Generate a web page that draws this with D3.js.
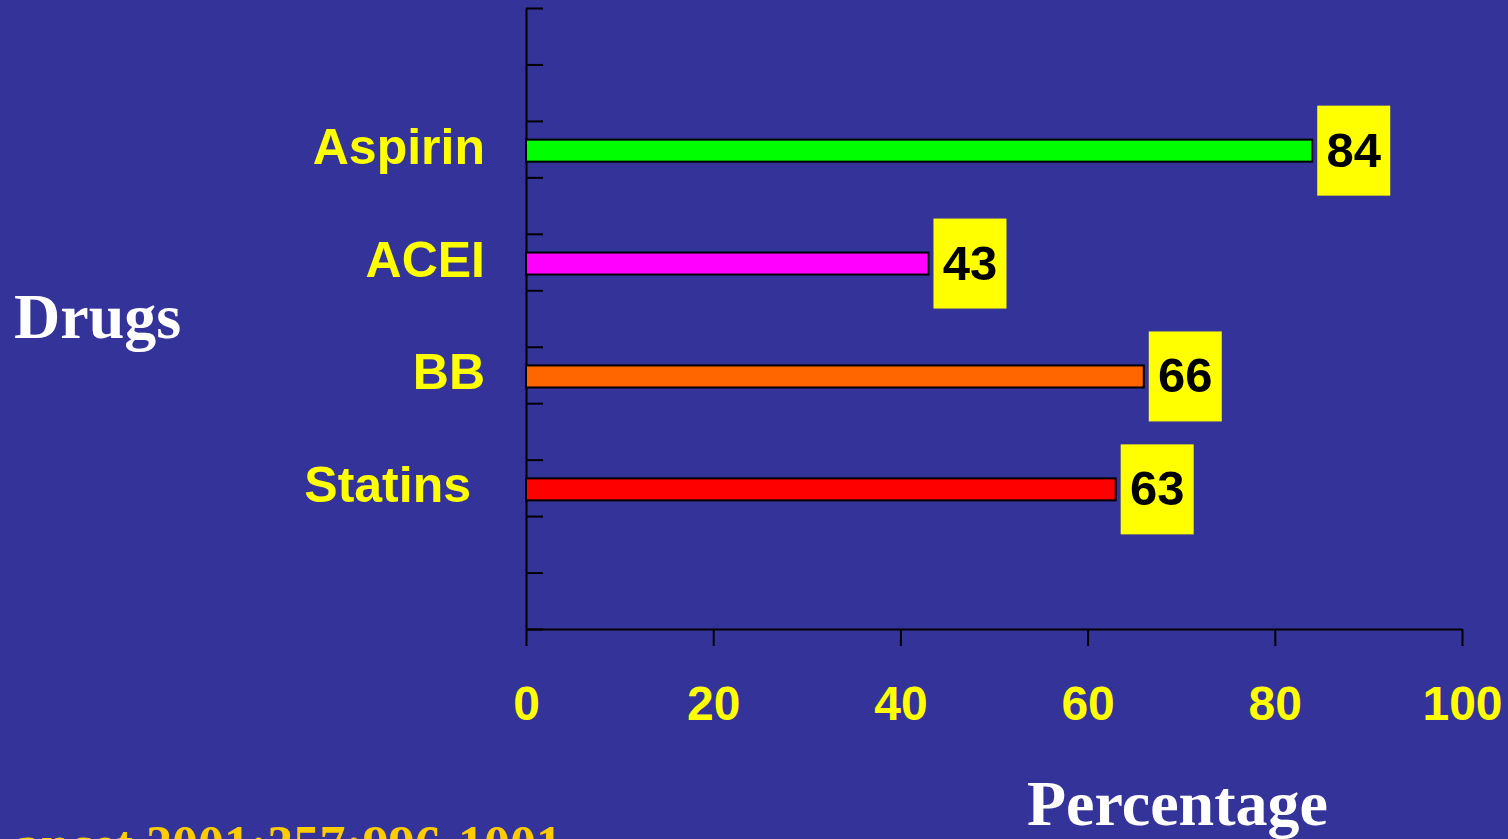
<!DOCTYPE html>
<html>
<head>
<meta charset="utf-8">
<script src="https://cdn.jsdelivr.net/npm/d3@7/dist/d3.min.js"></script>
<style>
  html, body { margin: 0; padding: 0; background: #333399; overflow: hidden; }
  svg { display: block; }
</style>
</head>
<body>
<script>
const categories = ["Aspirin", "ACEI", "BB", "Statins"];
const values = [84, 43, 66, 63];
const barColors = ["#00FF00", "#FF00FF", "#FF6600", "#FF0000"];
const xTickValues = [0, 20, 40, 60, 80, 100];
const ySlots = 11;          // number of tick intervals on the category axis
const slotIndex = [2, 4, 6, 8]; // interval occupied by each category
const yTitle = "Drugs";
const xTitle = "Percentage";
const citation = "Lancet 2001;357:996-1001";

const W = 1508, H = 839;
const svg = d3.select("body").append("svg").attr("width", W).attr("height", H);
svg.append("rect").attr("width", W).attr("height", H).attr("fill", "#333399");

const x = d3.scaleLinear().domain([0, 100]).range([526, 1462]);
const y = d3.scaleLinear().domain([0, ySlots]).range([8, 629]);
const barH = 22;

// Y axis (ticks pointing right)
const yAxis = svg.append("g").attr("transform", `translate(${x(0)},0)`)
  .call(d3.axisRight(y).tickValues(d3.range(0, ySlots + 1)).tickSize(17).tickSizeOuter(0).tickFormat(""));
yAxis.selectAll("path,line").attr("stroke", "#000").attr("stroke-width", 2);

// X axis (ticks pointing down)
const xAxis = svg.append("g").attr("transform", `translate(0,${y(ySlots)})`)
  .call(d3.axisBottom(x).tickValues(xTickValues).tickSize(17).tickSizeOuter(0));
xAxis.selectAll("path,line").attr("stroke", "#000").attr("stroke-width", 2);
xAxis.selectAll("text")
  .attr("y", 91).attr("dy", 0)
  .attr("fill", "#FFFF00")
  .style("font-family", "'Liberation Sans', Arial, sans-serif")
  .style("font-weight", "bold")
  .style("font-size", "48px");

const data = categories.map((c, i) => ({ c, v: values[i], color: barColors[i], cy: y(slotIndex[i] + 0.5) + 1.5 }));

// Bars
svg.selectAll("rect.bar").data(data).enter().append("rect")
  .attr("class", "bar")
  .attr("x", x(0))
  .attr("y", d => d.cy - barH / 2)
  .attr("width", d => x(d.v) - x(0))
  .attr("height", barH)
  .attr("fill", d => d.color)
  .attr("stroke", "#000")
  .attr("stroke-width", 2);

// Value boxes
const boxW = 73, boxH = 90;
svg.selectAll("rect.vbox").data(data).enter().append("rect")
  .attr("class", "vbox")
  .attr("x", d => x(d.v) + 5)
  .attr("y", d => d.cy - boxH / 2)
  .attr("width", boxW).attr("height", boxH)
  .attr("fill", "#FFFF00");
svg.selectAll("text.vlab").data(data).enter().append("text")
  .attr("class", "vlab")
  .attr("x", d => x(d.v) + 5 + boxW / 2)
  .attr("y", d => d.cy + 16)
  .attr("text-anchor", "middle")
  .attr("fill", "#000")
  .style("font-family", "'Liberation Sans', Arial, sans-serif")
  .style("font-weight", "bold")
  .style("font-size", "49px")
  .text(d => d.v);

// Category labels
svg.selectAll("text.cat").data(data).enter().append("text")
  .attr("class", "cat")
  .attr("x", d => d.c === "Statins" ? 471 : 485)
  .attr("y", d => d.cy + 13)
  .attr("text-anchor", "end")
  .attr("fill", "#FFFF00")
  .style("font-family", "'Liberation Sans', Arial, sans-serif")
  .style("font-weight", "bold")
  .style("font-size", "50px")
  .text(d => d.c);

// Titles
svg.append("text").attr("x", 14).attr("y", 338)
  .attr("fill", "#FFFFFF")
  .style("font-family", "'Liberation Serif', 'Times New Roman', serif")
  .style("font-weight", "bold").style("font-size", "64px")
  .text(yTitle);
svg.append("text").attr("x", 1027).attr("y", 825)
  .attr("fill", "#FFFFFF")
  .style("font-family", "'Liberation Serif', 'Times New Roman', serif")
  .style("font-weight", "bold").style("font-size", "64px")
  .text(xTitle);

// Citation (partly off-canvas, as in the original slide)
svg.append("text").attr("x", -20).attr("y", 862)
  .attr("fill", "#FFCC00")
  .style("font-family", "'Liberation Serif', 'Times New Roman', serif")
  .style("font-weight", "bold").style("font-size", "52px")
  .text(citation);
</script>
</body>
</html>
